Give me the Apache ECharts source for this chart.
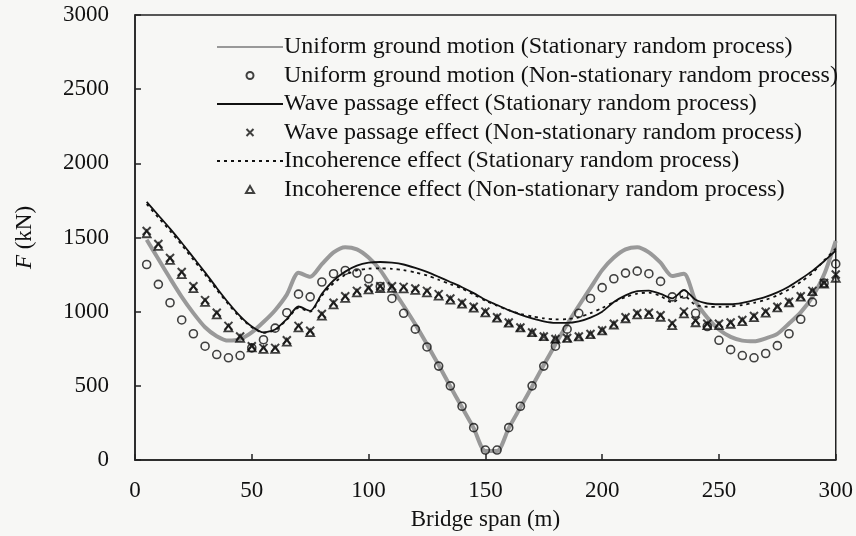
<!DOCTYPE html>
<html>
<head>
<meta charset="utf-8">
<script src="https://cdn.jsdelivr.net/npm/echarts@6/dist/echarts.min.js"></script>
<style>
html,body{margin:0;padding:0;background:#f7f7f5;}
#chart{width:856px;height:536px;}
</style>
</head>
<body>
<div id="chart"></div>
<script>
const spans = [5,10,15,20,25,30,35,40,45,50,55,60,65,70,75,80,85,90,95,100,105,110,115,120,125,130,135,140,145,150,155,160,165,170,175,180,185,190,195,200,205,210,215,220,225,230,235,240,245,250,255,260,265,270,275,280,285,290,295,300];

const uniformStationary = [1485,1355,1225,1100,990,895,835,805,815,860,930,1010,1115,1262,1235,1320,1400,1435,1420,1365,1280,1160,1040,915,780,640,495,355,215,60,60,215,355,495,640,780,915,1040,1160,1280,1365,1420,1435,1400,1330,1240,1255,1070,960,880,830,805,800,820,850,920,995,1100,1250,1478];

const uniformNonStationary = [1318,1184,1060,944,851,767,711,689,704,756,811,889,993,1118,1100,1200,1256,1278,1260,1222,1170,1089,989,882,762,633,500,362,218,67,67,218,362,500,633,767,882,989,1089,1162,1222,1260,1273,1256,1204,1100,1118,989,900,807,744,704,689,718,771,851,949,1064,1193,1322];

const waveStationary = [1740,1650,1560,1465,1365,1265,1160,1060,970,900,860,880,950,1035,1005,1120,1210,1270,1310,1330,1335,1330,1318,1295,1268,1235,1200,1165,1125,1080,1045,1010,980,955,935,925,925,935,960,1000,1065,1110,1138,1142,1120,1090,1145,1080,1055,1050,1050,1060,1078,1100,1130,1170,1220,1275,1340,1411];

const waveNonStationary = [1544,1456,1362,1267,1171,1078,993,904,833,767,756,756,807,904,871,984,1060,1104,1140,1160,1171,1171,1167,1156,1140,1118,1089,1060,1033,1000,962,927,893,860,833,816,822,833,849,875,918,962,989,993,976,922,1000,940,918,918,927,944,971,1000,1033,1067,1104,1140,1193,1251];

const incoherenceStationary = [1725,1635,1545,1450,1350,1250,1148,1050,962,895,858,876,945,1025,1000,1108,1192,1248,1278,1290,1292,1289,1280,1265,1245,1215,1185,1155,1115,1075,1040,1010,985,968,955,948,950,962,990,1025,1065,1098,1122,1128,1105,1062,1105,1045,1033,1032,1035,1045,1060,1080,1110,1150,1200,1260,1345,1425];

const incoherenceNonStationary = [1525,1440,1345,1250,1155,1062,978,890,820,755,745,745,795,890,858,970,1046,1090,1126,1146,1156,1157,1153,1143,1127,1105,1078,1050,1023,992,956,922,890,858,832,815,820,830,845,870,910,952,978,980,962,905,985,925,905,905,915,933,960,990,1025,1060,1098,1135,1185,1225];

const xTicks = [0,50,100,150,200,250,300];
const yTicks = [0,500,1000,1500,2000,2500,3000];

const names = [
  'Uniform ground motion (Stationary random process)',
  'Uniform ground motion (Non-stationary random process)',
  'Wave passage effect (Stationary random process)',
  'Wave passage effect (Non-stationary random process)',
  'Incoherence effect (Stationary random process)',
  'Incoherence effect (Non-stationary random process)'
];

function pairs(arr){ return spans.map((x,i)=>[x, arr[i]]); }

const FONT = 'Liberation Serif';
const crossPath = 'path://M0,0L10,10M10,0L0,10';
const triPath = 'path://M5,0L10,8.66L0,8.66Z';

const noDot = {color:'transparent', opacity:0, borderWidth:0};

const chart = echarts.init(document.getElementById('chart'), null, {renderer:'canvas'});
chart.setOption({
  backgroundColor: '#f7f7f5',
  animation: false,
  grid: {left:135, right:16, top:15, bottom:71, show:true, borderColor:'#222', borderWidth:1.5, backgroundColor:'transparent'},
  legend: {
    orient:'vertical', left:211, top:30, itemWidth:66, itemHeight:7, itemGap:4.5,
    symbolKeepAspect:true,
    textStyle:{fontFamily:FONT, fontSize:24, color:'#111', lineHeight:24, padding:[0,0,0,-4]},
    data: [
      {name:names[0], itemStyle:noDot},
      {name:names[1]},
      {name:names[2], itemStyle:noDot},
      {name:names[3]},
      {name:names[4], itemStyle:noDot},
      {name:names[5]}
    ]
  },
  xAxis: {
    type:'value', min:xTicks[0], max:xTicks[xTicks.length-1], interval:50,
    name:'Bridge span (m)', nameLocation:'middle', nameGap:48,
    nameTextStyle:{fontFamily:FONT, fontSize:23, color:'#111'},
    axisLine:{show:true, lineStyle:{color:'#222', width:1.5}},
    axisTick:{show:true, inside:true, length:6, lineStyle:{color:'#222', width:1.5}},
    axisLabel:{fontFamily:FONT, fontSize:23, color:'#111', margin:19, formatter:(v)=>String(v)},
    splitLine:{show:false}
  },
  yAxis: {
    type:'value', min:yTicks[0], max:yTicks[yTicks.length-1], interval:500,
    name:'{i|F} (kN)', nameLocation:'middle', nameGap:99,
    nameTextStyle:{fontFamily:FONT, fontSize:23, color:'#111',
      rich:{i:{fontFamily:FONT, fontSize:23, fontStyle:'italic', color:'#111'}}},
    axisLine:{show:true, lineStyle:{color:'#222', width:1.5}},
    axisTick:{show:true, inside:true, length:6, lineStyle:{color:'#222', width:1.5}},
    axisLabel:{fontFamily:FONT, fontSize:23, color:'#111', margin:26, formatter:(v)=>String(v)},
    splitLine:{show:false}
  },
  series: [
    {name:names[0], type:'line', data:pairs(uniformStationary), symbol:'none', showSymbol:false, smooth:0.25,
     lineStyle:{color:'#999', width:4}, itemStyle:{color:'#999'}, z:2},
    {name:names[1], type:'scatter', data:pairs(uniformNonStationary), symbol:'circle', symbolSize:8,
     itemStyle:{color:'transparent', borderColor:'#111', borderWidth:1.6}, z:3},
    {name:names[2], type:'line', data:pairs(waveStationary), symbol:'none', showSymbol:false, smooth:0.25,
     lineStyle:{color:'#111', width:1.8}, itemStyle:{color:'#111'}, z:3},
    {name:names[3], type:'scatter', data:pairs(waveNonStationary), symbol:crossPath, symbolSize:8, symbolKeepAspect:true,
     itemStyle:{color:'none', borderColor:'#111', borderWidth:2}, z:4},
    {name:names[4], type:'line', data:pairs(incoherenceStationary), symbol:'none', showSymbol:false, smooth:0.25,
     lineStyle:{color:'#111', width:1.8, type:[3,4]}, itemStyle:{color:'#111'}, z:3},
    {name:names[5], type:'scatter', data:pairs(incoherenceNonStationary), symbol:triPath, symbolSize:8, symbolKeepAspect:true,
     itemStyle:{color:'transparent', borderColor:'#111', borderWidth:1.8}, z:4}
  ]
});
</script>
</body>
</html>
